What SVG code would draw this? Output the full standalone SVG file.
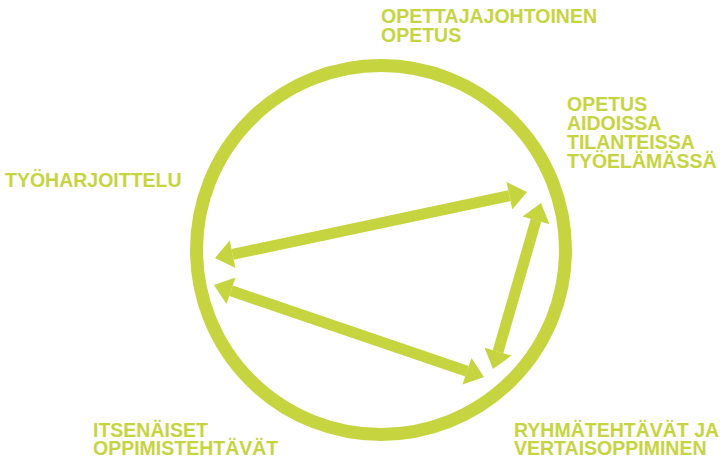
<svg xmlns="http://www.w3.org/2000/svg" width="725" height="461" viewBox="0 0 725 461">
  <defs>
    <style>
      .lbl { font-family: "Liberation Sans", Arial, sans-serif; font-weight: bold; font-size: 19.5px; fill: #c6d43f; }
      .ring { fill: none; stroke: #c6d43f; stroke-width: 13; }
      .arr { stroke: #c6d43f; stroke-width: 11; fill: none; marker-start: url(#head); marker-end: url(#head); }
    </style>
    <marker id="head" markerUnits="userSpaceOnUse" markerWidth="40" markerHeight="40" refX="0" refY="0" orient="auto-start-reverse" overflow="visible" viewBox="-20 -20 40 40">
      <path d="M0,-14 L18,0 L0,14 Z" fill="#c6d43f"/>
    </marker>
  </defs>
  <rect width="725" height="461" fill="#ffffff"/>
  <g id="circle">
    <circle class="ring" cx="381" cy="250" r="184.5"/>
  </g>
  <g id="connectors">
    <line class="arr" x1="232.6" y1="254.3" x2="509.4" y2="195.7"/>
    <line class="arr" x1="231.0" y1="290.8" x2="467.0" y2="371.2"/>
    <line class="arr" x1="536.0" y1="220.3" x2="498.0" y2="351.7"/>
  </g>
  <g id="node-opettajajohtoinen">
    <text class="lbl" x="381" y="23">OPETTAJAJOHTOINEN</text>
    <text class="lbl" x="381" y="42">OPETUS</text>
  </g>
  <g id="node-aidoissa">
    <text class="lbl" x="567" y="111">OPETUS</text>
    <text class="lbl" x="567" y="130">AIDOISSA</text>
    <text class="lbl" x="567" y="149">TILANTEISSA</text>
    <text class="lbl" x="567" y="168">TYÖELÄMÄSSÄ</text>
  </g>
  <g id="node-tyoharjoittelu">
    <text class="lbl" x="5" y="187">TYÖHARJOITTELU</text>
  </g>
  <g id="node-itsenaiset">
    <text class="lbl" x="93" y="437">ITSENÄISET</text>
    <text class="lbl" x="93" y="455">OPPIMISTEHTÄVÄT</text>
  </g>
  <g id="node-ryhma">
    <text class="lbl" x="514" y="437">RYHMÄTEHTÄVÄT JA</text>
    <text class="lbl" x="514" y="455">VERTAISOPPIMINEN</text>
  </g>
</svg>
